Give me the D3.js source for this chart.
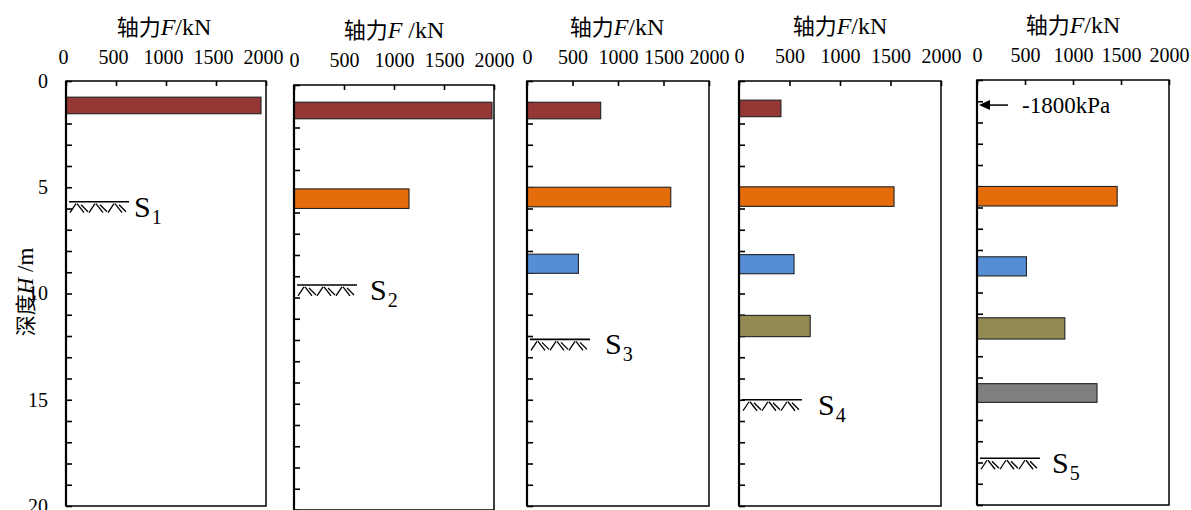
<!DOCTYPE html>
<html>
<head>
<meta charset="utf-8">
<script src="https://cdn.jsdelivr.net/npm/d3@7"></script>
<style>
  html, body { margin: 0; padding: 0; background: #fff; }
  svg { display: block; }
</style>
</head>
<body>
<svg id="chart" width="1191" height="510"></svg>
<script>
// ---- data ----------------------------------------------------------------
const forceTicks = [0, 500, 1000, 1500, 2000];          // kN
const depthTicks = [0, 5, 10, 15, 20];                   // m
const strutColors = ["#953735", "#E46C0A", "#558ED5", "#938953", "#7F7F7F"];

// strut axial force (kN) and strut depth (m) for each excavation stage
const stage1Force = [1950];
const stage1Depth = [1.15];
const stage2Force = [1980, 1150];
const stage2Depth = [1.2, 5.35];
const stage3Force = [810, 1580, 565];
const stage3Depth = [1.39, 5.46, 8.6];
const stage4Force = [415, 1535, 545, 705];
const stage4Depth = [1.29, 5.44, 8.62, 11.53];
const stage5Force = [null, 1460, 515, 915, 1250];         // first strut replaced by preload
const stage5Depth = [1.18, 5.47, 8.77, 11.69, 14.73];

const excavationDepth = [5.68, 9.41, 12.16, 15.0, 17.8];  // m
const stageLabels = ["1", "2", "3", "4", "5"];
const preloadDepth = 1.18;
const preloadLabel = "-1800kPa";

// ---- layout --------------------------------------------------------------
const SERIF = "'Liberation Serif', 'Times New Roman', serif";
const CJK = "'Noto Sans CJK SC', sans-serif";

const panels = [
  { left: 66,  top: 81, width: 200, titleX: 164,  titleY: 35, tickY: 17, gap: 5,  spaced: false },
  { left: 294, top: 85, width: 200, titleX: 394,  titleY: 38, tickY: 18, gap: 13, spaced: true  },
  { left: 527, top: 81, width: 182, titleX: 617,  titleY: 35, tickY: 17, gap: 15, spaced: false },
  { left: 739, top: 81, width: 202, titleX: 840,  titleY: 34, tickY: 18, gap: 16, spaced: false },
  { left: 977, top: 80, width: 192, titleX: 1073, titleY: 33, tickY: 18, gap: 12, spaced: false }
];
const plotHeight = 425;        // 0..20 m
const strutThick = [0.78, 0.92, 0.9, 1.0, 0.88];

const forces = [stage1Force, stage2Force, stage3Force, stage4Force, stage5Force];
const depths = [stage1Depth, stage2Depth, stage3Depth, stage4Depth, stage5Depth];

const svg = d3.select("#chart");

panels.forEach((p, i) => {
  const x = d3.scaleLinear().domain([0, 2000]).range([0, p.width]);
  const y = d3.scaleLinear().domain([0, 20]).range([0, plotHeight]);
  const g = svg.append("g").attr("transform", `translate(${p.left},${p.top})`);

  // title
  const t = svg.append("text")
    .attr("x", p.titleX).attr("y", p.titleY)
    .attr("text-anchor", "middle")
    .attr("font-size", 24)
    .attr("fill", "#000");
  t.append("tspan").attr("font-family", CJK).attr("font-size", 22).text("轴力");
  t.append("tspan").attr("font-family", SERIF).attr("font-style", "italic").text("F");
  t.append("tspan").attr("font-family", SERIF).text(p.spaced ? " /kN" : "/kN");

  // top force axis, ticks pointing inward
  const ax = g.append("g").call(
    d3.axisTop(x).tickValues(forceTicks).tickSize(-5).tickPadding(p.tickY)
      .tickFormat(d3.format("d"))
  );
  ax.select(".domain").remove();
  ax.selectAll("line").attr("stroke", "#000").attr("stroke-width", 1.6);
  ax.selectAll("text").attr("font-size", 20).attr("fill", "#000").attr("font-family", SERIF);
  if (i === 0) ax.selectAll("text").attr("dx", -3);

  // left depth axis, minor tick every metre
  const ay = g.append("g").call(
    d3.axisLeft(y).tickValues(d3.range(0, 21)).tickSize(-6).tickPadding(18)
      .tickFormat(d => (i === 0 && depthTicks.includes(d)) ? d : "")
  );
  ay.select(".domain").remove();
  ay.selectAll("line").attr("stroke", "#000").attr("stroke-width", 1.6);
  ay.selectAll("text").attr("font-size", 20).attr("fill", "#000").attr("font-family", SERIF);

  // struts
  const rows = forces[i].map((f, k) => ({ f, d: depths[i][k], k })).filter(r => r.f !== null);
  g.selectAll("rect.strut").data(rows).join("rect")
    .attr("class", "strut")
    .attr("x", 0)
    .attr("y", r => y(r.d - strutThick[r.k] / 2))
    .attr("width", r => x(r.f))
    .attr("height", r => y(strutThick[r.k]) - y(0))
    .attr("fill", r => strutColors[r.k])
    .attr("stroke", "#222")
    .attr("stroke-width", 1.1);

  // frame
  g.append("rect")
    .attr("x", 0).attr("y", 0).attr("width", p.width).attr("height", plotHeight)
    .attr("fill", "none").attr("stroke", "#000").attr("stroke-width", 1.5);
  g.append("line")
    .attr("x1", 0).attr("x2", 0).attr("y1", 0).attr("y2", plotHeight)
    .attr("stroke", "#000").attr("stroke-width", 2.2);

  // excavation level symbol
  const ey = y(excavationDepth[i]);
  const sym = g.append("g").attr("transform", `translate(3,${ey})`)
    .attr("stroke", "#000").attr("fill", "none");
  sym.append("line").attr("x1", 0).attr("x2", 60).attr("y1", 0).attr("y2", 0).attr("stroke-width", 1.6);
  for (let u = 0; u < 3; u++) {
    const ox = u * 19;
    sym.append("path").attr("stroke-width", 1.3)
      .attr("d", `M${ox + 1},11 L${ox + 7},2 M${ox + 8},2 L${ox + 15},11 M${ox + 12},3 L${ox + 19},10`);
  }
  const lab = g.append("text")
    .attr("x", 63 + p.gap).attr("y", ey + 15)
    .attr("font-family", SERIF)
    .attr("font-size", 30).attr("fill", "#000");
  lab.append("tspan").text("S");
  lab.append("tspan").attr("font-size", 20).attr("dy", 7).attr("dx", 1).text(stageLabels[i]);

  // preload annotation on the last stage
  if (i === 4) {
    const py = y(preloadDepth);
    g.append("line").attr("x1", 10).attr("x2", 31).attr("y1", py).attr("y2", py)
      .attr("stroke", "#000").attr("stroke-width", 1.5);
    g.append("path").attr("d", `M2,${py} L13,${py - 5} L13,${py + 5} Z`).attr("fill", "#000");
    g.append("text").attr("x", 45).attr("y", py)
      .attr("dy", "0.35em")
      .attr("font-family", SERIF)
      .attr("font-size", 23).attr("fill", "#000")
      .text(preloadLabel);
  }
});

// shared depth axis title
const yt = svg.append("text")
  .attr("transform", "translate(33,292) rotate(-90)")
  .attr("text-anchor", "middle")
  .attr("font-size", 23).attr("fill", "#000");
yt.append("tspan").attr("font-family", CJK).attr("font-size", 21).text("深度");
yt.append("tspan").attr("font-family", SERIF).attr("font-style", "italic").text("H");
yt.append("tspan").attr("font-family", SERIF).text(" /m");
</script>
</body>
</html>
